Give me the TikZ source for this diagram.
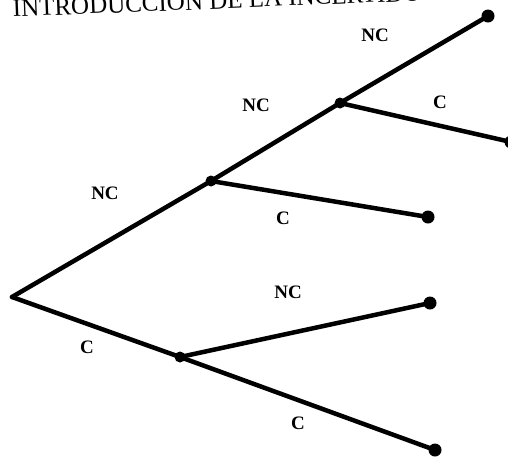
\documentclass[tikz,border=0pt]{standalone}
\usepackage{fontspec}
\setmainfont{Liberation Serif}
\begin{document}
\begin{tikzpicture}[x=1pt,y=-1pt,
  branch/.style={line width=4.5pt,line cap=round},
  leaf/.style={circle,fill=black,inner sep=0pt,minimum size=13pt},
  fork/.style={circle,fill=black,inner sep=0pt,minimum size=11pt},
  lbl/.style={font=\bfseries\fontsize{19}{19}\selectfont,inner sep=0pt}]
\useasboundingbox (0,0) rectangle (508,459);
\clip (0,0) rectangle (508,459);
\node[anchor=base west,inner sep=0pt,rotate=2.3,font=\fontsize{25}{25}\selectfont] (title) at (13,17) {INTRODUCCION DE LA INCERTIDUMBRE};
\coordinate (root) at (12,297);
\node[fork] (a) at (211,181) {};
\node[fork] (b) at (340,103) {};
\node[fork] (d) at (180,357) {};
\node[leaf] (l1) at (488,16) {};
\node[leaf] (l2) at (511,142) {};
\node[leaf] (l3) at (428,217) {};
\node[leaf] (l4) at (430,303) {};
\node[leaf] (l5) at (435,450) {};
\draw[branch] (root) -- (a.center) -- (b.center) -- (l1.center);
\draw[branch] (b.center) -- (l2.center);
\draw[branch] (a.center) -- (l3.center);
\draw[branch] (root) -- (d.center) -- (l5.center);
\draw[branch] (d.center) -- (l4.center);
\node[lbl] (t1) at (375,35) {NC};
\node[lbl] (t2) at (256,105) {NC};
\node[lbl] (t3) at (440,102) {C};
\node[lbl] (t4) at (105,193) {NC};
\node[lbl] (t5) at (283,218) {C};
\node[lbl] (t6) at (288,292) {NC};
\node[lbl] (t7) at (87,347) {C};
\node[lbl] (t8) at (298,423) {C};
\end{tikzpicture}
\end{document}
